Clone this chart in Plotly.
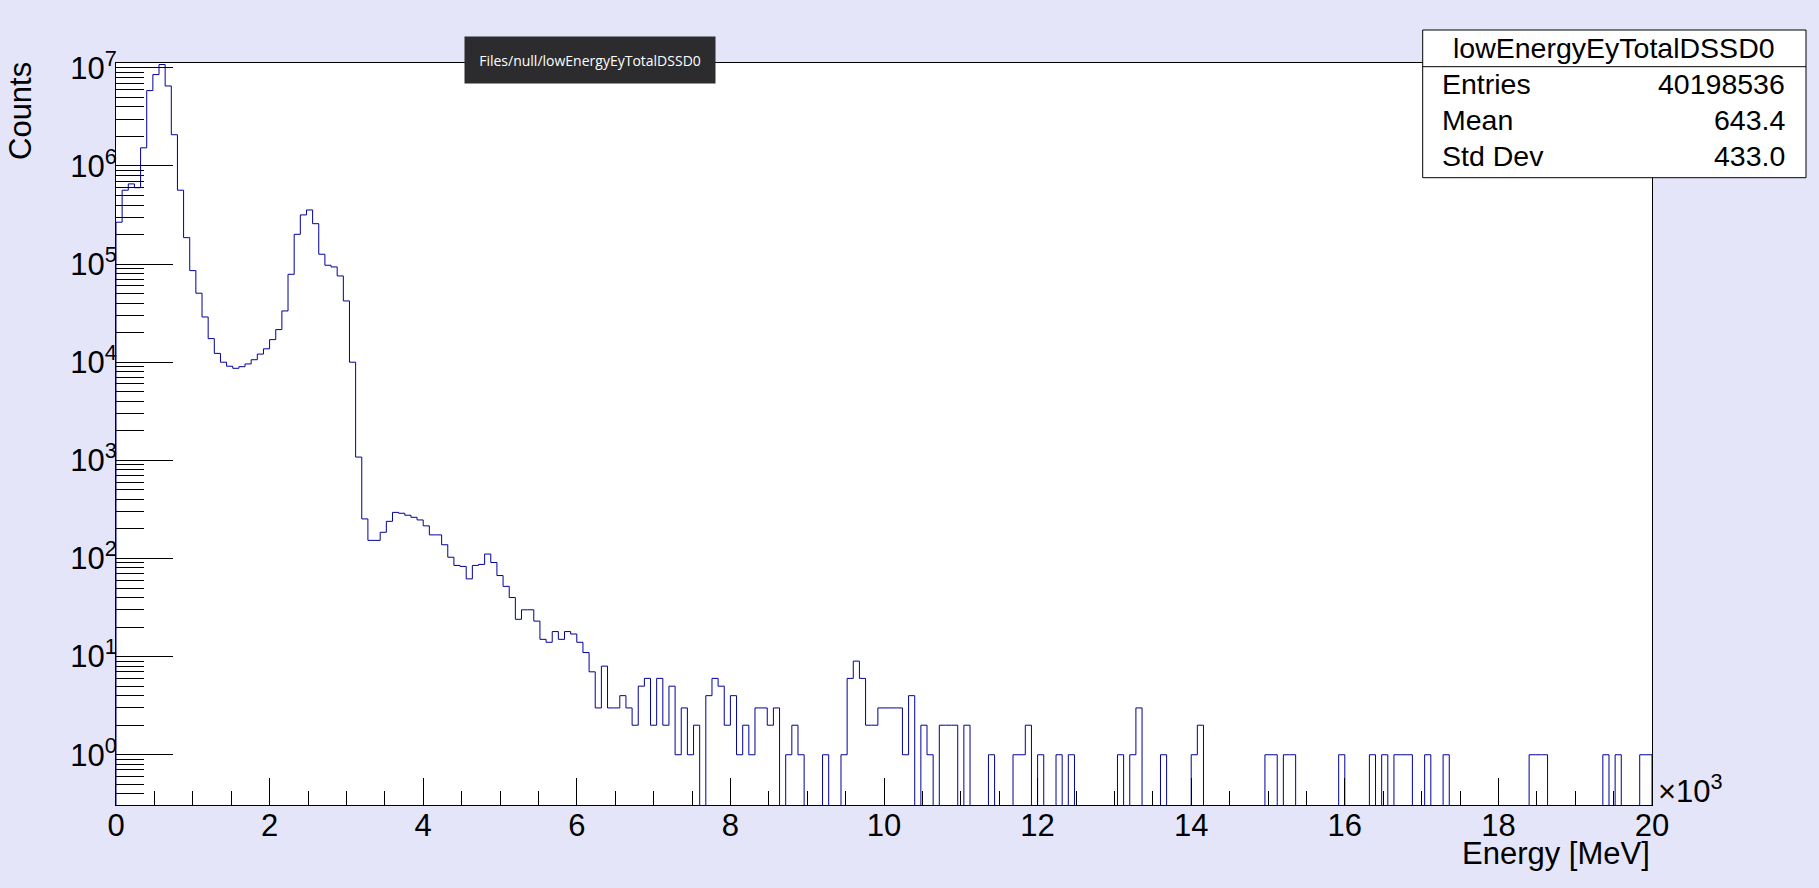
import plotly.graph_objects as go

# ---------------- data ----------------
hist_name = "lowEnergyEyTotalDSSD0"
x_min_keV = 0
x_max_keV = 20000
n_bins = 250

counts_low = [
    267000, 566000, 656000, 600000, 1530000, 5860000, 8530000, 10800000,
    6530000, 2080000, 566000, 186000, 85800, 50500, 28900, 17400,
    12300, 10000, 9100, 8670, 9000, 9600, 10600, 12100,
    13700, 17000, 21500, 33300, 78700, 201000, 317000, 356000,
    258000, 126000, 97300, 93500, 75700, 42100, 10000, 1080,
]
counts_mid = [
    253, 153, 153, 185, 239, 295, 289, 276, 263, 247,
    215, 174, 174, 138, 103, 85, 83, 62, 85, 87,
    111, 91, 67, 52, 40, 24, 30, 30, 23, 15,
    14, 18, 15, 18, 17, 14, 11, 7, 3, 8,
]
counts_tail_a = [
    3, 3, 4, 3, 2, 5, 6, 2, 6, 2,
    5, 1, 3, 1, 2, 0, 4, 6, 5, 2,
    4, 1, 2, 1, 3, 3, 2, 3, 0, 1,
    2, 1, 0, 0, 0, 1, 0, 0, 1, 6,
    9, 6, 2, 2, 3, 3, 3, 3, 1, 4,
]
counts_tail_b = [
    0, 2, 1, 0, 2, 2, 2, 0, 2, 0,
    0, 0, 1, 0, 0, 0, 1, 1, 2, 0,
    1, 0, 0, 1, 0, 1, 0, 0, 0, 0,
    0, 0, 0, 1, 0, 1, 3, 0, 0, 0,
    1, 0, 0, 0, 0, 1, 2, 0, 0, 0,
    0, 0, 0, 0, 0, 0, 0, 1, 1, 0,
]
counts_tail_c = [
    1, 1, 0, 0, 0, 0, 0, 0, 0, 1,
    0, 0, 0, 0, 1, 0, 1, 0, 1, 1,
    1, 0, 0, 1, 0, 0, 1, 0, 0, 0,
    0, 0, 0, 0, 0, 0, 0, 0, 0, 0,
    1, 1, 1, 0, 0, 0, 0, 0, 0, 0,
    0, 0, 1, 0, 1, 0, 0, 0, 1, 1,
]
counts = counts_low + counts_mid + counts_tail_a + counts_tail_b + counts_tail_c

x_tick_vals = [0, 2000, 4000, 6000, 8000, 10000, 12000, 14000, 16000, 18000, 20000]
x_tick_text = ["0", "2", "4", "6", "8", "10", "12", "14", "16", "18", "20"]
y_tick_vals = [1, 10, 100, 1000, 10000, 100000, 1000000, 10000000]
y_tick_text = ["10<sup>0</sup>", "10<sup>1</sup>", "10<sup>2</sup>", "10<sup>3</sup>",
               "10<sup>4</sup>", "10<sup>5</sup>", "10<sup>6</sup>", "10<sup>7</sup>"]

stats_labels = ["Entries", "Mean", "Std Dev"]
stats_values = ["40198536", "643.4", "433.0"]
tooltip_text = "Files/null/lowEnergyEyTotalDSSD0"
x_title = "Energy [MeV]"
y_title = "Counts"

# ---------------- build step outline ----------------
bin_w = (x_max_keV - x_min_keV) / n_bins
edges = [x_min_keV + i * bin_w for i in range(n_bins + 1)]
below = 0.01  # zero bins drawn down past the frame bottom (clipped)
ys = [c if c > 0 else below for c in counts]
step_x = [edges[0]] + edges[:-1] + [edges[-1], edges[-1]]
step_y = [below] + ys + [ys[-1], below]

W, H = 1819, 888
L, R, T, B = 116, 167, 63, 83
pw, ph = W - L - R, H - T - B


def px(xp):
    return (xp - L) / pw


def py(yp):
    return (H - B - yp) / ph


FONT = "Liberation Sans, Arial, sans-serif"

fig = go.Figure()
fig.add_trace(go.Scatter(
    x=step_x, y=step_y, mode="lines", line_shape="hv",
    line=dict(color="rgb(0,0,153)", width=1), hoverinfo="skip", showlegend=False,
))

x_minor = [v for v in range(0, 20001, 500) if v % 2000]
y_minor = [m * 10.0 ** e for e in range(-1, 8) for m in range(2, 10)
           if 0.3 <= m * 10.0 ** e <= 1.1e7]

fig.update_xaxes(
    range=[x_min_keV, x_max_keV], tickmode="array", tickvals=x_tick_vals, ticktext=x_tick_text,
    ticks="inside", ticklen=27, tickwidth=1, tickcolor="black",
    minor=dict(tickmode="array", tickvals=x_minor, ticks="inside", ticklen=14,
               tickwidth=1, tickcolor="black", showgrid=False),
    showline=True, linecolor="black", linewidth=1, mirror=True,
    showgrid=False, zeroline=False, ticklabelstandoff=-7,
    tickfont=dict(family=FONT, size=31, color="black"),
)
fig.update_yaxes(
    type="log", range=[-0.512, 7.049], tickmode="array", tickvals=y_tick_vals, ticktext=y_tick_text,
    ticks="inside", ticklen=57, tickwidth=1, tickcolor="black",
    minor=dict(tickmode="array", tickvals=y_minor, ticks="inside", ticklen=28,
               tickwidth=1, tickcolor="black", showgrid=False),
    showline=True, linecolor="black", linewidth=1, mirror=True,
    showgrid=False, zeroline=False, ticklabelstandoff=-8,
    tickfont=dict(family=FONT, size=31, color="black"),
)

shapes = [
    dict(type="rect", xref="paper", yref="paper",
         x0=px(1422.7), x1=px(1806), y0=py(177.7), y1=py(30),
         line=dict(color="black", width=1), fillcolor="white", layer="above"),
    dict(type="line", xref="paper", yref="paper",
         x0=px(1422.7), x1=px(1806), y0=py(66.7), y1=py(66.7),
         line=dict(color="black", width=1), layer="above"),
]

annotations = [
    dict(text=hist_name, x=px(1614.3), y=py(48.5), xanchor="center", yanchor="middle",
         font=dict(family=FONT, size=28.5, color="black")),
]
row_y = [84, 119.5, 155.5]
for lab, val, yy in zip(stats_labels, stats_values, row_y):
    annotations.append(dict(text=lab, x=px(1440), y=py(yy), xanchor="left", yanchor="middle",
                            font=dict(family=FONT, size=28.5, color="black")))
    annotations.append(dict(text=val, x=px(1787), y=py(yy), xanchor="right", yanchor="middle",
                            font=dict(family=FONT, size=28.5, color="black")))

annotations += [
    dict(text=x_title, x=px(1652), y=py(853.5), xanchor="right", yanchor="middle",
         font=dict(family=FONT, size=31, color="black")),
    dict(text=y_title, x=px(21), y=py(60), xanchor="center", yanchor="top", textangle=-90,
         font=dict(family=FONT, size=31, color="black")),
    dict(text="×10<sup>3</sup>", x=px(1656), y=py(789), xanchor="left", yanchor="middle",
         font=dict(family=FONT, size=31, color="black")),
    dict(text=tooltip_text, x=px(590), y=py(59.7), xanchor="center", yanchor="middle",
         width=242, height=38, borderpad=4, bgcolor="rgb(44,44,46)",
         font=dict(family="Liberation Sans Narrow, Open Sans, sans-serif", size=14, color="white")),
]
for a in annotations:
    a.setdefault("xref", "paper")
    a.setdefault("yref", "paper")
    a.setdefault("showarrow", False)

fig.update_layout(
    width=W, height=H, margin=dict(l=L, r=R, t=T, b=B, pad=0),
    paper_bgcolor="rgb(229,229,249)", plot_bgcolor="white",
    shapes=shapes, annotations=annotations, showlegend=False,
)

fig.write_html(
    "out.html",
    config={"displayModeBar": False},
    post_script="document.body.style.margin='0';document.body.style.overflow='hidden';"
                "document.body.style.background='rgb(229,229,249)';",
)
